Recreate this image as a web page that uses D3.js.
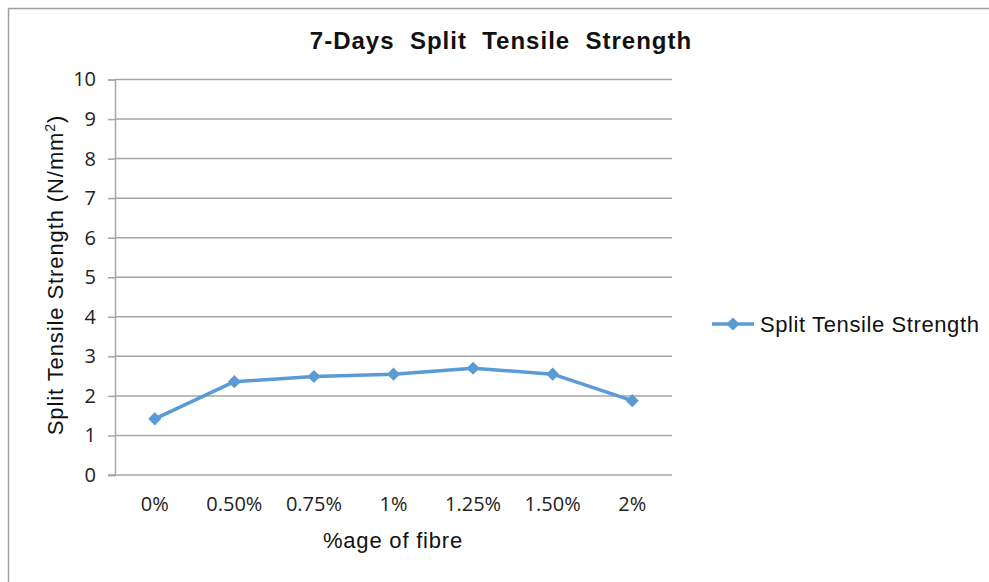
<!DOCTYPE html>
<html>
<head>
<meta charset="utf-8">
<script src="https://cdn.jsdelivr.net/npm/d3@7"></script>
<style>
  body { margin: 0; background: #fff; }
  svg { display: block; }
  .tick text { font-family: "Open Sans", sans-serif; font-size: 20px; fill: #222; }
</style>
</head>
<body>
<svg id="chart" width="989" height="582"></svg>
<script>
// data
var categories = ["0%", "0.50%", "0.75%", "1%", "1.25%", "1.50%", "2%"];
var strength = [1.42, 2.36, 2.49, 2.55, 2.70, 2.55, 1.88];
var yTicks = [0, 1, 2, 3, 4, 5, 6, 7, 8, 9, 10];
var seriesName = "Split Tensile Strength";

var svg = d3.select("#chart");
var blue = "#5b9bd5";
var grey = "#a6a6a6";

// outer frame of the chart object
svg.append("rect")
  .attr("x", 8.5).attr("y", 8.5)
  .attr("width", 1000).attr("height", 1000)
  .attr("fill", "none")
  .attr("stroke", "#a0a0a0")
  .attr("stroke-width", 1.5);

var plot = {left: 115, right: 672, top: 79.5, bottom: 475};

var xScale = d3.scaleBand().domain(categories).range([plot.left, plot.right]).padding(0);
var yScale = d3.scaleLinear().domain([0, 10]).range([plot.bottom, plot.top]);

// horizontal gridlines
svg.append("g")
  .selectAll("line")
  .data(yTicks.filter(function(d){ return d > 0; }))
  .enter().append("line")
  .attr("x1", plot.left).attr("x2", plot.right)
  .attr("y1", function(d){ return yScale(d); })
  .attr("y2", function(d){ return yScale(d); })
  .attr("stroke", grey)
  .attr("stroke-width", 1.5);

// y axis
var yAxis = d3.axisLeft(yScale).tickValues(yTicks).tickSize(7).tickPadding(12);
var yAxisGroup = svg.append("g")
  .attr("transform", "translate(" + plot.left + ",0)")
  .call(yAxis);
yAxisGroup.select(".domain").attr("stroke", grey).attr("stroke-width", 1.5);
yAxisGroup.selectAll(".tick line").attr("stroke", grey).attr("stroke-width", 1.5);

// x axis (no ticks)
var xAxis = d3.axisBottom(xScale).tickSize(0).tickPadding(22);
var xAxisGroup = svg.append("g")
  .attr("transform", "translate(0," + plot.bottom + ")")
  .call(xAxis);
xAxisGroup.select(".domain")
  .attr("d", "M" + (plot.left - 7) + ",0H" + plot.right)
  .attr("stroke", grey).attr("stroke-width", 1.5);

// series line
var line = d3.line()
  .x(function(d, i){ return xScale(categories[i]) + xScale.bandwidth() / 2; })
  .y(function(d){ return yScale(d); });

svg.append("path")
  .datum(strength)
  .attr("d", line)
  .attr("fill", "none")
  .attr("stroke", blue)
  .attr("stroke-width", 3.5)
  .attr("stroke-linejoin", "round");

var diamond = d3.symbol().type(d3.symbolDiamond2).size(110);

svg.append("g")
  .selectAll("path")
  .data(strength)
  .enter().append("path")
  .attr("d", diamond)
  .attr("transform", function(d, i){
    return "translate(" + (xScale(categories[i]) + xScale.bandwidth() / 2) + "," + yScale(d) + ")";
  })
  .attr("fill", blue);

// title
svg.append("text")
  .attr("x", 501).attr("y", 49)
  .attr("text-anchor", "middle")
  .style("font-family", "'Liberation Sans', Arial, sans-serif")
  .style("font-weight", "bold")
  .style("font-size", "24px")
  .style("letter-spacing", "1px")
  .style("white-space", "pre")
  .attr("fill", "#111")
  .text("7-Days  Split  Tensile  Strength");

// y axis title
var yTitle = svg.append("text")
  .attr("transform", "translate(63," + 275 + ") rotate(-90)")
  .attr("text-anchor", "middle")
  .style("font-family", "'Liberation Sans', Arial, sans-serif")
  .style("font-size", "22px")
  .style("letter-spacing", "0.9px")
  .attr("fill", "#111");
yTitle.append("tspan").text("Split Tensile Strength (N/mm");
yTitle.append("tspan").attr("dy", -8).style("font-size", "14px").text("2");
yTitle.append("tspan").attr("dy", 8).text(")");

// x axis title
svg.append("text")
  .attr("x", 393).attr("y", 548)
  .attr("text-anchor", "middle")
  .style("font-family", "'Liberation Sans', Arial, sans-serif")
  .style("font-size", "22px")
  .style("letter-spacing", "0.8px")
  .attr("fill", "#111")
  .text("%age of fibre");

// legend
var legend = svg.append("g").attr("transform", "translate(712,324)");
legend.append("line")
  .attr("x1", 0).attr("x2", 42).attr("y1", 0).attr("y2", 0)
  .attr("stroke", blue).attr("stroke-width", 3.5);
legend.append("path")
  .attr("d", diamond)
  .attr("transform", "translate(21,0)")
  .attr("fill", blue);
legend.append("text")
  .attr("x", 48).attr("y", 8)
  .style("font-family", "'Liberation Sans', Arial, sans-serif")
  .style("font-size", "22px")
  .style("letter-spacing", "0.6px")
  .attr("fill", "#111")
  .text(seriesName);
</script>
</body>
</html>
